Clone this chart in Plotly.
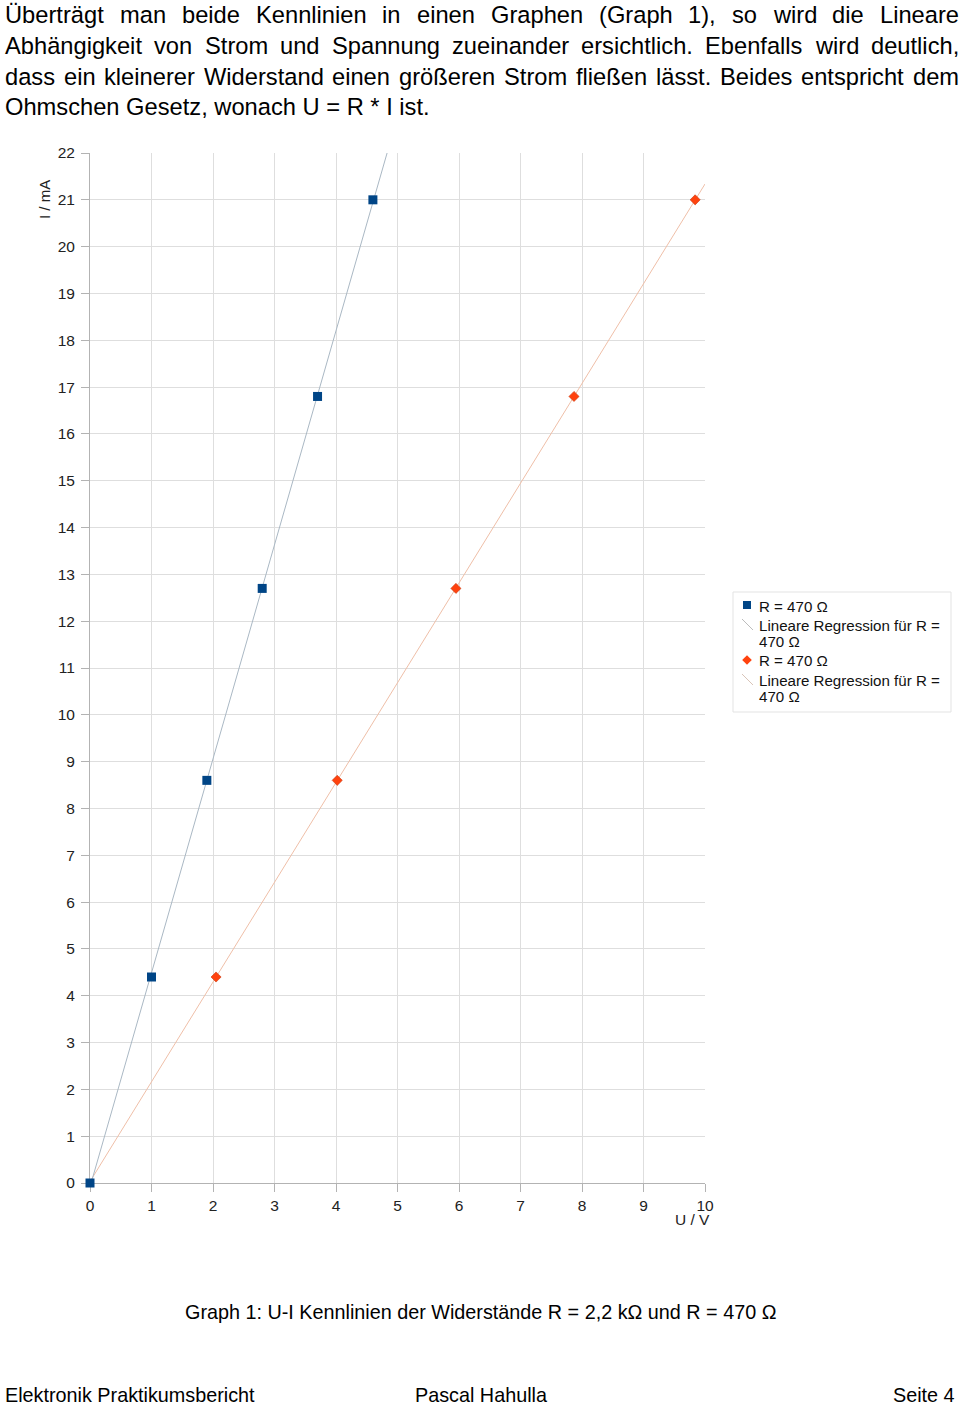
import plotly.graph_objects as go
import numpy as np

# ---------------- data ----------------
u_r1 = [0, 1.0, 1.9, 2.8, 3.7, 4.6]          # U / V  (series 1, blue)
i_r1 = [0, 4.4, 8.6, 12.7, 16.8, 21.0]        # I / mA
u_r2 = [2.05, 4.02, 5.95, 7.87, 9.84]         # U / V  (series 2, orange)
i_r2 = [4.4, 8.6, 12.7, 16.8, 21.0]           # I / mA
series_names = ["R = 470 Ω", "R = 470 Ω"]
reg_names = ["Lineare Regression für R = 470 Ω", "Lineare Regression für R = 470 Ω"]
x_ticks = list(range(0, 11))
y_ticks = list(range(0, 23))

paragraph = [
    "Überträgt man beide Kennlinien in einen Graphen (Graph 1), so wird die Lineare",
    "Abhängigkeit von Strom und Spannung zueinander ersichtlich. Ebenfalls wird deutlich,",
    "dass ein kleinerer Widerstand einen größeren Strom fließen lässt. Beides entspricht dem",
    "Ohmschen Gesetz, wonach U = R * I ist.",
]
caption = "Graph 1: U-I Kennlinien der Widerstände R = 2,2 kΩ und R = 470 Ω"
footer = ["Elektronik Praktikumsbericht", "Pascal Hahulla", "Seite 4"]

# ---------------- page geometry ----------------
W, H = 960, 1406
ML, MR, MT, MB = 90, 255, 153, 223
PW = W - ML - MR
PH = H - MT - MB
FONT = "Liberation Sans, Arial, sans-serif"

def pxx(x):
    return (x - ML) / PW

def pxy(y):
    return (H - MB - y) / PH

BLUE = "#004586"
ORANGE = "#ff420e"
BLUE_REG = "#aab8c4"
ORANGE_REG = "#efbfa8"

fig = go.Figure()

# regression lines (least squares from data)
xs_line = np.array([0.0, 10.0])
for u, i, col, nm in [(u_r2, i_r2, ORANGE_REG, reg_names[1]), (u_r1, i_r1, BLUE_REG, reg_names[0])]:
    k, d = np.polyfit(u, i, 1)
    fig.add_trace(go.Scatter(x=xs_line, y=k * xs_line + d, mode="lines",
                             line=dict(color=col, width=1), name=nm, showlegend=False,
                             hoverinfo="skip"))

fig.add_trace(go.Scatter(x=u_r2, y=i_r2, mode="markers", name=series_names[1],
                         marker=dict(symbol="diamond", size=7.8, color=ORANGE,
                                     line=dict(width=0.6, color="#c83a10")),
                         cliponaxis=False, showlegend=False))
fig.add_trace(go.Scatter(x=u_r1, y=i_r1, mode="markers", name=series_names[0],
                         marker=dict(symbol="square", size=9, color=BLUE,
                                     line=dict(width=0)),
                         cliponaxis=False, showlegend=False))

# ---------------- text helpers ----------------
CW = {
    " ": 278, "(": 333, ")": 333, "*": 389, ",": 278, "-": 333, ".": 278, ":": 278, "=": 584,
    "0": 556, "1": 556, "2": 556, "3": 556, "4": 556, "5": 556, "6": 556, "7": 556, "8": 556, "9": 556,
    "A": 667, "B": 667, "C": 722, "D": 722, "E": 667, "F": 611, "G": 778, "H": 722, "I": 278,
    "K": 667, "L": 556, "M": 833, "N": 722, "O": 778, "P": 667, "R": 722, "S": 667, "T": 611,
    "U": 722, "V": 667, "W": 944, "Ü": 722,
    "a": 556, "b": 556, "c": 500, "d": 556, "e": 556, "f": 278, "g": 556, "h": 556, "i": 222,
    "j": 222, "k": 500, "l": 222, "m": 833, "n": 556, "o": 556, "p": 556, "q": 556, "r": 333,
    "s": 500, "t": 278, "u": 556, "v": 500, "w": 722, "x": 500, "y": 500, "z": 500,
    "ä": 556, "ö": 556, "ü": 556, "ß": 611,
}

def text_w(s, fs):
    return sum(CW.get(c, 556) for c in s) * fs / 1000.0

annotations = []

def add_text(txt, x, y, size, xanchor="left", angle=0, color="#000000"):
    annotations.append(dict(text=txt, x=pxx(x), y=pxy(y), xref="paper", yref="paper",
                            xanchor=xanchor, yanchor="middle", showarrow=False,
                            textangle=angle, font=dict(family=FONT, size=size, color=color)))

P_FS = 23.7
P_LEFT, P_RIGHT = 3, 957
line_y = [15, 46, 77, 107]
for li, line in enumerate(paragraph):
    if li == len(paragraph) - 1:
        add_text(line, P_LEFT, line_y[li], P_FS)
        continue
    words = line.split(" ")
    widths = [text_w(w, P_FS) for w in words]
    gap = (P_RIGHT - P_LEFT - sum(widths)) / (len(words) - 1)
    x = P_LEFT
    for w, ww in zip(words, widths):
        add_text(w, x, line_y[li], P_FS)
        x += ww + gap

# caption and footer
add_text(caption, 480, 1312, 19.8, xanchor="center")
add_text(footer[0], 3, 1395, 19.8, xanchor="left")
add_text(footer[1], 480.5, 1395, 19.8, xanchor="center")
add_text(footer[2], 957, 1395, 19.8, xanchor="right")

# axis titles
add_text("I / mA", 45, 200, 15, xanchor="center", angle=-90, color="#222222")
add_text("U / V", 692, 1219, 15.5, xanchor="center", color="#222222")

# ---------------- custom legend ----------------
shapes = []
shapes.append(dict(type="rect", xref="paper", yref="paper",
                   x0=pxx(733), x1=pxx(951), y0=pxy(592), y1=pxy(712),
                   line=dict(color="#e3e3e3", width=1), fillcolor="white", layer="above"))
# blue square
shapes.append(dict(type="rect", xref="paper", yref="paper",
                   x0=pxx(743), x1=pxx(751), y0=pxy(601), y1=pxy(609),
                   line=dict(width=0), fillcolor=BLUE, layer="above"))
# orange diamond
cx, cy, r = 747, 660, 4.8
shapes.append(dict(type="path", xref="paper", yref="paper",
                   path="M {} {} L {} {} L {} {} L {} {} Z".format(
                       pxx(cx), pxy(cy - r), pxx(cx + r), pxy(cy), pxx(cx), pxy(cy + r), pxx(cx - r), pxy(cy)),
                   line=dict(width=0), fillcolor=ORANGE, layer="above"))
# regression symbols
for y0, col in [(619, "#bcbcbc"), (674, "#d9c4b8")]:
    shapes.append(dict(type="line", xref="paper", yref="paper",
                       x0=pxx(742), x1=pxx(753), y0=pxy(y0), y1=pxy(y0 + 11),
                       line=dict(color=col, width=1), layer="above"))

LEG_FS = 15.1
reg_line1 = "Lineare Regression für R ="
reg_line2 = "470 Ω"
for txt, y in [(series_names[0], 606), (reg_line1, 625), (reg_line2, 641),
               (series_names[1], 660), (reg_line1, 680), (reg_line2, 696)]:
    add_text(txt, 757, y, LEG_FS, color="#111111")

fig.update_layout(
    width=W, height=H,
    margin=dict(l=ML, r=MR, t=MT, b=MB, pad=0),
    paper_bgcolor="white", plot_bgcolor="white",
    font=dict(family=FONT, color="#222222"),
    showlegend=False,
    annotations=annotations,
    shapes=shapes,
    xaxis=dict(range=[0, 10], tickmode="array", tickvals=x_ticks, ticktext=[str(t) for t in x_ticks],
               showgrid=True, gridcolor="#dedede", gridwidth=1, zeroline=False,
               showline=True, linecolor="#b3b3b3", linewidth=1, layer="below traces",
               ticks="outside", ticklen=8, tickcolor="#b3b3b3",
               tickfont=dict(size=15.5, color="#222222", family=FONT), fixedrange=True),
    yaxis=dict(range=[0, 22], tickmode="array", tickvals=y_ticks, ticktext=[str(t) for t in y_ticks],
               showgrid=True, gridcolor="#dedede", gridwidth=1, zeroline=False,
               showline=True, linecolor="#b3b3b3", linewidth=1, layer="below traces",
               ticks="outside", ticklen=8, tickcolor="#b3b3b3", ticklabelstandoff=3,
               tickfont=dict(size=15.5, color="#222222", family=FONT), fixedrange=True),
)

fig.write_html("out.html", config={"displayModeBar": False})
